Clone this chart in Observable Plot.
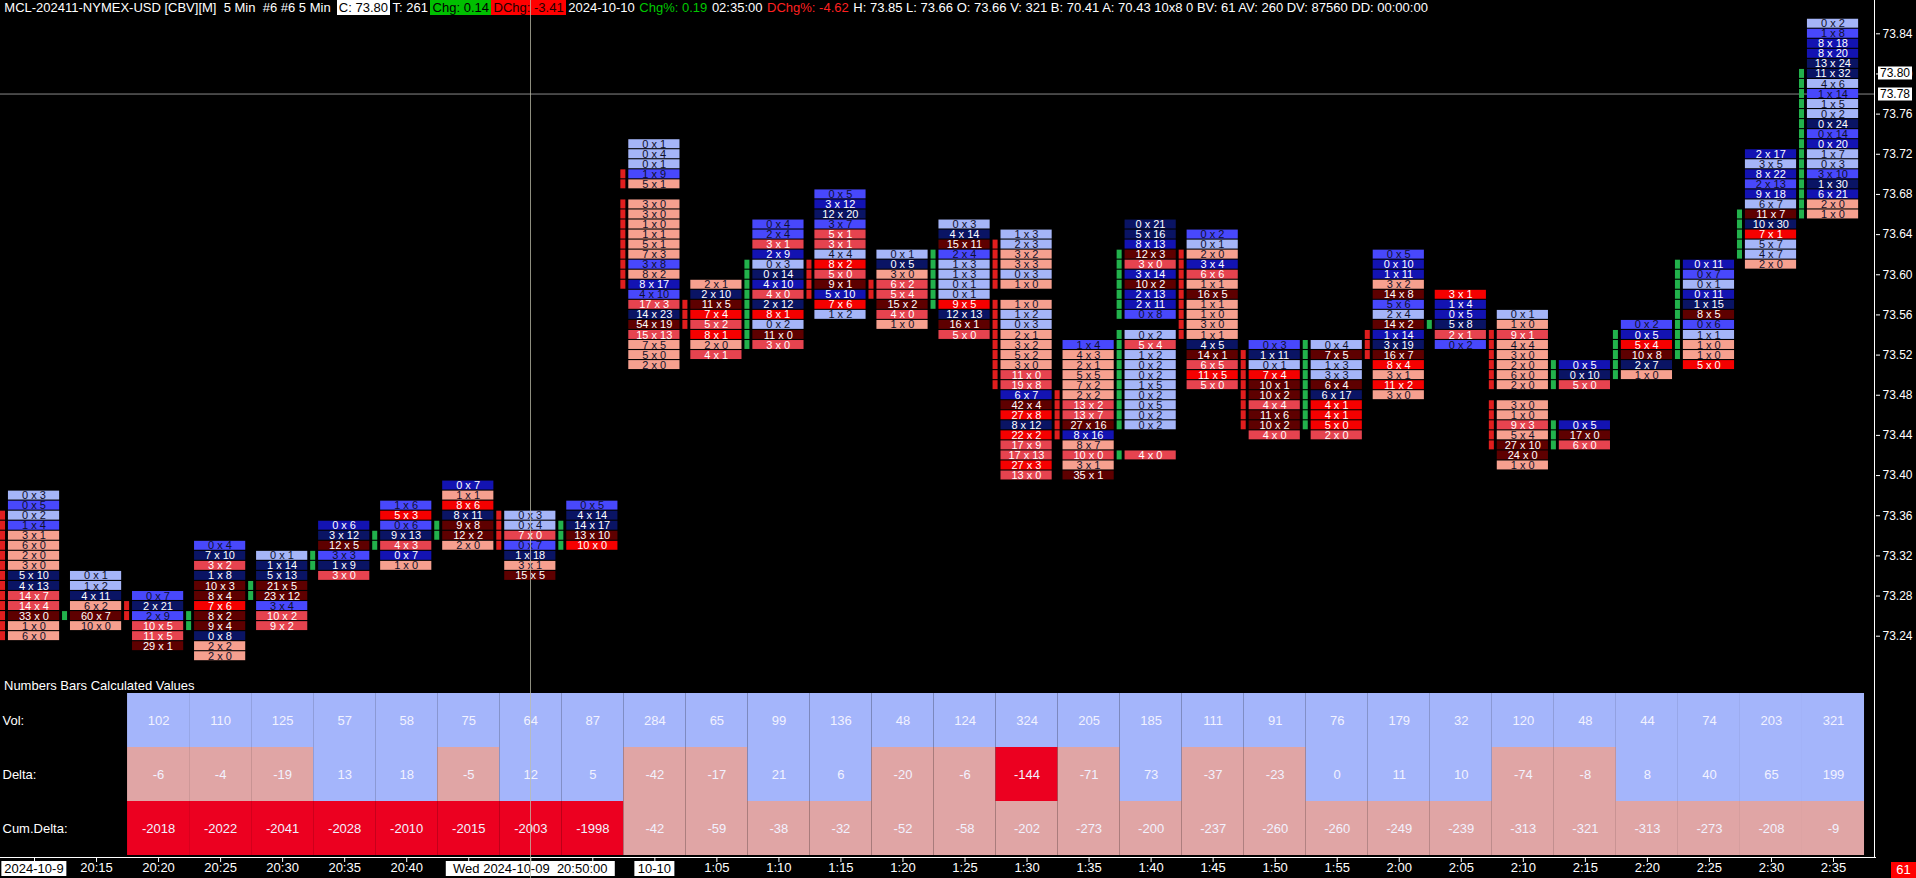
<!DOCTYPE html>
<html>
<head>
<meta charset="utf-8">
<script src="https://cdn.jsdelivr.net/npm/d3@7"></script>
<script src="https://cdn.jsdelivr.net/npm/@observablehq/plot@0.6"></script>
<style>
  body { margin: 0; background: #000; overflow: hidden; }
  #wrap { position: relative; width: 1916px; height: 878px; background: #000; font-family: "Liberation Sans", Arial, sans-serif; color: #fff; }
  #wrap > * { position: absolute; }
  #hdr { left: 2px; top: 0; font-size: 13px; line-height: 16px; white-space: pre; }
  #hdr span { padding: 0 2.3px; }
  .wb { background: #fff; color: #000; }
  .gb { background: #00bf00; color: #000; }
  .rb { background: #ff0000; color: #200; }
  .gt { color: #00c800; }
  .rt { color: #ff2020; }
  .lbl { font-size: 13px; line-height: 16px; white-space: pre; }
  .box { background: #fff; color: #000; font-size: 13px; line-height: 15px; padding: 0 3px; white-space: pre; transform: translateX(-50%); }
  .pbox { background: #fff; color: #000; font-size: 12px; line-height: 13px; padding: 0 2px; transform: translateY(-50%); }
</style>
</head>
<body>
<div id="wrap"></div>
<script>
// 5 minute footprint bars, 2024-10-09 20:10 .. 2024-10-10 02:35
const timeLabels = ["2024-10-9","20:15","20:20","20:25","20:30","20:35","20:40","20:45","20:50","20:55",
  "10-10","1:05","1:10","1:15","1:20","1:25","1:30","1:35","1:40","1:45",
  "1:50","1:55","2:00","2:05","2:10","2:15","2:20","2:25","2:30","2:35"];

// top price of each bar, then its rows going down one tick (0.01) each: bid x ask + shade, "-" = no trade
const barTop = [73.38,73.30,73.28,73.33,73.32,73.35,73.37,73.39,73.36,73.37,
  73.73,73.59,73.65,73.68,73.62,73.65,73.64,73.53,73.65,73.64,
  73.53,73.53,73.62,73.58,73.56,73.51,73.55,73.61,73.72,73.85];

const barCells = [
  "0x3L 0x5M 0x2L 1x4M 3x1P 6x0P 2x0P 3x0P 5x10N 4x13N 14x7R 14x4R 33x0K 1x0P 6x0P",
  "0x1L 1x2L 4x11N 6x2P 60x7K 10x0P",
  "0x7M 2x21N 2x9M 10x5R 11x5R 29x1K",
  "0x4M 7x10N 3x2R 1x8N 10x3K 8x4K 7x6B 8x2K 9x4K 0x8N 2x2P 2x0P",
  "0x1L 1x14N 5x13N 21x5K 23x12K 3x4M 10x2R 9x2R",
  "0x6D 3x12N 12x5K 3x3M 1x9N 3x0R",
  "1x6M 5x3B 0x6M 9x13N 4x3R 0x7D 1x0P",
  "0x7D 1x1P 8x6B 8x11N 9x8K 12x2K 2x0P",
  "0x3L 0x4L 7x0R 0x7M 1x18N 3x1P 15x5K",
  "0x5M 4x14N 14x17N 13x10K 10x0B",
  "0x1L 0x4L 0x1L 1x9M 5x1P - 3x0P 3x0P 1x0P 1x1P 5x1P 7x3P 3x8M 8x2P 8x17D 4x10M 17x3R 14x23N 54x19K 15x13R 7x5P 5x0P 2x0P",
  "2x1P 2x10N 11x5K 7x4B 5x2R 8x1B 2x0P 4x1R",
  "0x4M 2x4M 3x1R 2x9D 0x3L 0x14N 4x10D 4x0R 2x12N 8x1B 0x2L 11x0K 3x0R",
  "0x5M 3x12D 12x20N 3x7M 5x1R 3x1R 4x4L 8x2B 5x0R 9x1K 5x10D 7x6B 1x2L",
  "0x1L 0x5N 3x0P 6x2R 5x4R 15x2K 4x0R 1x0P",
  "0x3L 4x14N 15x11K 2x4M 1x3L 1x3L 0x1L 0x1L 9x5B 12x13N 16x1K 5x0R",
  "1x3L 2x3L 3x2P 3x3P 0x3L 1x0P - 1x0P 1x2L 0x3L 2x1P 3x2P 5x2P 3x0P 11x0R 19x8R 6x7D 42x4K 27x8B 8x12N 22x2B 17x9R 17x13R 27x3B 13x0R",
  "1x4M 4x3P 2x1P 5x5P 7x2P 2x2P 13x2R 13x7R 27x16K 8x16D 8x7P 10x0R 3x1P 35x1K",
  "0x21N 5x16N 8x13D 12x3K 3x0R 3x14D 10x2K 2x13D 2x11D 0x8M - 0x2L 5x4R 1x2L 0x2L 0x2L 1x5L 0x2L 0x5L 0x2L 0x2L - - 4x0R",
  "0x2M 0x1L 2x0P 3x4D 6x6R 1x1P 16x5K 1x1P 1x0P 3x0P 1x1P 4x5N 14x1K 6x5R 11x5B 5x0R",
  "0x3M 1x11N 0x1L 7x4B 10x1K 10x2K 4x4R 11x6K 10x2K 4x0R",
  "0x4L 7x5K 1x3L 3x3L 6x4K 6x17N 4x1B 4x1B 5x0B 2x0R",
  "0x5M 0x10D 1x11D 3x2P 14x8K 5x6M 2x4L 14x2K 1x14D 3x19N 16x7K 8x4B 3x1P 11x2B 3x0P",
  "3x1B 1x4D 0x5D 5x8N 2x1R 0x2M",
  "0x1L 1x0P 9x1R 4x4P 3x0P 2x0P 6x0P 2x0P - 3x0P 1x0P 9x3R 5x4P 27x10K 24x0K 1x0P",
  "0x5D 0x10N 5x0R - - - 0x5D 17x0K 6x0R",
  "0x2M 0x5D 5x4B 10x8K 2x7N 1x0P",
  "0x11D 0x7M 0x1L 0x11D 1x15N 8x5K 0x6M 1x1L 1x0P 1x0P 5x0B",
  "2x17D 3x5L 8x22D 2x13M 9x18D 6x7L 11x7K 10x30N 7x1B 5x7L 4x7L 2x0P",
  "0x2L 1x8M 8x18D 8x20D 13x24N 11x32N 4x6L 1x14M 1x5L 0x2L 0x24N 0x14M 0x20D 1x7L 0x3L 3x10M 1x30N 6x21D 2x0P 1x0P"
];

const bodyOpen = [73.36,73.26,73.27,73.25,73.28,73.31,73.33,73.34,73.36,73.33,
  73.70,73.57,73.53,73.61,73.59,73.57,73.63,73.48,73.42,73.62,
  73.52,73.45,73.54,73.55,73.54,73.43,73.50,73.52,73.62,73.66];
const bodyClose = [73.24,73.26,73.26,73.26,73.29,73.32,73.34,73.35,73.33,73.35,
  73.59,73.55,73.61,73.58,73.58,73.62,73.49,73.44,73.62,73.54,
  73.45,73.53,73.52,73.55,73.43,73.51,73.54,73.61,73.66,73.80];

// lower study: bars 3..30
const volume = [102,110,125,57,58,75,64,87,284,65,99,136,48,124,324,205,185,111,91,76,179,32,120,48,44,74,203,321];
const delta = [-6,-4,-19,13,18,-5,12,5,-42,-17,21,6,-20,-6,-144,-71,73,-37,-23,0,11,10,-74,-8,8,40,65,199];
const cumDelta = [-2018,-2022,-2041,-2028,-2010,-2015,-2003,-1998,-42,-59,-38,-32,-52,-58,-202,-273,-200,-237,-260,-260,-249,-239,-313,-321,-313,-273,-208,-9];

const priceTicks = [73.24,73.28,73.32,73.36,73.40,73.44,73.48,73.52,73.56,73.60,73.64,73.68,73.72,73.76,73.80,73.84];
const lastPrice = 73.80, cursorPrice = 73.78, cursorBar = 9;

const cells = barCells.flatMap((s, i) => s.split(" ").map((t, k) => {
  if (t === "-") return null;
  const m = t.match(/^(\d+)x(\d+)([A-Z])$/);
  return {bar: i + 1, price: +(barTop[i] - k * 0.01).toFixed(2), bid: +m[1], ask: +m[2], shade: m[3]};
}).filter(Boolean));

const strips = cells.filter(d => {
  const o = bodyOpen[d.bar - 1], c = bodyClose[d.bar - 1];
  return d.price >= Math.min(o, c) - 1e-6 && d.price <= Math.max(o, c) + 1e-6;
}).map(d => ({...d, up: bodyClose[d.bar - 1] >= bodyOpen[d.bar - 1]}));

const font = "Liberation Sans, Arial, sans-serif";
const xOpts = {type: "linear", domain: [1, 30], range: [34, 1833], axis: null};
const darkText = new Set(["L", "M", "P"]);
const label = d => `${d.bid} x ${d.ask}`;
const rowBox = {y1: d => d.price + 0.0045, y2: d => d.price - 0.0044};

const main = Plot.plot({
  width: 1916, height: 680,
  marginTop: 0, marginBottom: 0, marginLeft: 0, marginRight: 41,
  style: {background: "transparent", color: "white", fontFamily: font},
  x: xOpts,
  y: {domain: [73.84, 73.24], range: [33.3, 635.7], axis: null, label: null},
  color: {domain: ["L","M","D","N","P","R","B","K"],
          range: ["#a5b5f8","#4848fc","#1313b2","#0a1464","#f6a08f","#e6434f","#f50000","#5e0000"]},
  marks: [
    Plot.ruleY([cursorPrice], {stroke: "#8a8a8a"}),
    Plot.rect(cells, {x1: d => d.bar - 0.42, x2: d => d.bar + 0.405, ...rowBox, fill: "shade"}),
    Plot.rect(strips.filter(d => d.up), {x1: d => d.bar - 0.548, x2: d => d.bar - 0.467, ...rowBox, fill: "#22b24c"}),
    Plot.rect(strips.filter(d => !d.up), {x1: d => d.bar - 0.548, x2: d => d.bar - 0.467, ...rowBox, fill: "#e01e1e"}),
    Plot.text(cells.filter(d => darkText.has(d.shade)), {x: d => d.bar - 0.01, y: "price", text: label, fill: "#10102a", fontSize: 11}),
    Plot.text(cells.filter(d => !darkText.has(d.shade)), {x: d => d.bar - 0.01, y: "price", text: label, fill: "#ffffff", fontSize: 11}),
    Plot.axisY({ticks: priceTicks, anchor: "right", label: null, tickSize: 4, tickPadding: 3, fontSize: 12,
                tickFormat: d => d.toFixed(2), color: "white"})
  ]
});

// lower study table
const studyRows = ["Vol:", "Delta:", "Cum.Delta:"];
const tone = (v, strongBelow) => v <= strongBelow ? "strong" : v < 0 ? "neg" : "pos";
const study = volume.flatMap((v, k) => [
  {bar: k + 3, row: 0, value: v, tone: "pos"},
  {bar: k + 3, row: 1, value: delta[k], tone: tone(delta[k], -100)},
  {bar: k + 3, row: 2, value: cumDelta[k], tone: tone(cumDelta[k], -1000)}
]);

const table = Plot.plot({
  width: 1916, height: 162,
  marginTop: 0, marginBottom: 0, marginLeft: 0, marginRight: 41,
  style: {background: "transparent", color: "white", fontFamily: font},
  x: xOpts,
  y: {domain: [0, 3], range: [0, 162], axis: null},
  color: {type: "ordinal", domain: ["pos", "neg", "strong"], range: ["#a4b5fb", "#e0a5a5", "#ec0020"]},
  marks: [
    Plot.rect(study, {x1: d => d.bar - 0.5, x2: d => d.bar + 0.5, y1: "row", y2: d => d.row + 1, fill: "tone"}),
    Plot.text(study, {x: "bar", y: d => d.row + 0.5, text: d => String(d.value), fill: "#f2f2ff", fontSize: 13}),
    Plot.text(studyRows, {frameAnchor: "left", dx: 2, y: (d, i) => i + 0.5, text: d => d, fill: "white", fontSize: 13, textAnchor: "start"})
  ]
});

// labels hidden in the reference: boxed ones drawn as overlays, the ones under the cursor box are covered
const boxed = new Set([1, 11]);
const covered = new Set([8, 9, 10]);
const timeAxis = Plot.plot({
  width: 1916, height: 23,
  marginTop: 0, marginBottom: 21, marginLeft: 0, marginRight: 41,
  style: {background: "transparent", color: "white", fontFamily: font},
  x: xOpts,
  marks: [
    Plot.frame({anchor: "bottom", stroke: "white"}),
    Plot.axisX({ticks: d3.range(1, 31), tickSize: 5, tickPadding: 0, fontSize: 13, color: "white", label: null,
                tickFormat: i => boxed.has(i) || covered.has(i) ? "" : timeLabels[i - 1]})
  ]
});

const wrap = document.getElementById("wrap");
const sx = main.scale("x"), sy = main.scale("y");
const add = (html, css) => {
  const el = document.createElement("div");
  el.innerHTML = html;
  Object.assign(el.style, css);
  wrap.append(el);
  return el;
};

Object.assign(main.style, {left: "0px", top: "0px"});
Object.assign(table.style, {left: "0px", top: "693px"});
Object.assign(timeAxis.style, {left: "0px", top: "855px"});
wrap.append(main, table, timeAxis);

const hdr = add(
  `<span>MCL-202411-NYMEX-USD [CBV][M]  5 Min  #6 #6 5 Min </span><span class="wb">C: 73.80</span>` +
  `<span>T: 261</span><span class="gb">Chg: 0.14</span><span class="rb">DChg: -3.41</span>` +
  `<span>2024-10-10</span><span class="gt">Chg%: 0.19</span><span>02:35:00</span>` +
  `<span class="rt">DChg%: -4.62</span><span>H: 73.85 L: 73.66 O: 73.66 V: 321 B: 70.41 A: 70.43 10x8 0 BV: 61 AV: 260 DV: 87560 DD: 00:00:00</span>`,
  {});
hdr.id = "hdr";

add("Numbers Bars Calculated Values", {left: "4px", top: "678px"}).className = "lbl";

// right price axis line
add("", {left: "1874px", top: "0px", width: "1px", height: "858px", background: "#fff"});
add(lastPrice.toFixed(2), {left: "1878px", top: sy.apply(lastPrice) + "px"}).className = "pbox";
add(cursorPrice.toFixed(2), {left: "1878px", top: sy.apply(cursorPrice) + "px"}).className = "pbox";

// time axis boxed labels
for (const i of boxed) add(timeLabels[i - 1], {left: sx.apply(i) + "px", top: "861px"}).className = "box";
add("Wed 2024-10-09  20:50:00", {left: sx.apply(cursorBar) + "px", top: "861px", padding: "0 7px"}).className = "box";

// crosshair
add("", {left: Math.round(sx.apply(cursorBar)) + "px", top: "0px", width: "1px", height: "878px", background: "rgba(190,190,170,0.75)"});

add("61", {left: "1891px", top: "862px", width: "25px", height: "16px", background: "#ff0000", color: "#fff",
  fontSize: "13px", lineHeight: "16px", textAlign: "center"});
</script>
</body>
</html>
